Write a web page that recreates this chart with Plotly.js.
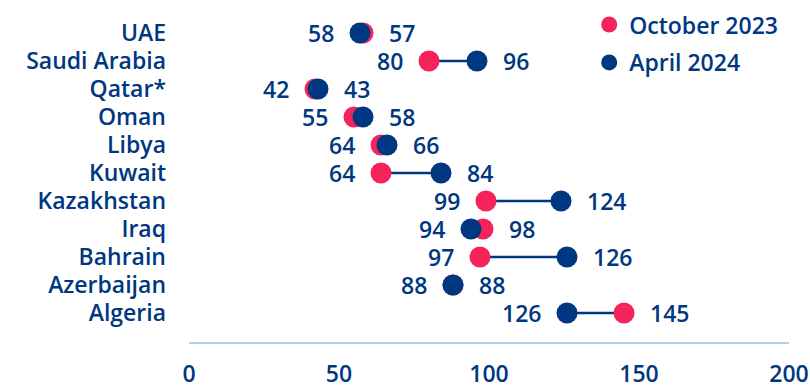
<!DOCTYPE html>
<html>
<head>
<meta charset="utf-8">
<script src="https://cdn.plot.ly/plotly-3.0.1.min.js"></script>
<style>
  html, body { margin: 0; padding: 0; background: #ffffff; }
  #chart { width: 810px; height: 388px; }
</style>
</head>
<body>
<div id="chart"></div>
<script>
// Countries, top to bottom
const countries = ['UAE', 'Saudi Arabia', 'Qatar*', 'Oman', 'Libya', 'Kuwait',
                   'Kazakhstan', 'Iraq', 'Bahrain', 'Azerbaijan', 'Algeria'];
// Values for each survey round
const oct2023 = [58, 80, 42, 55, 64, 64, 99, 98, 97, 88, 145];
const apr2024 = [57, 96, 43, 58, 66, 84, 124, 94, 126, 88, 126];
// Value labels written left and right of each pair
const leftLabels  = ['58', '80', '42', '55', '64', '64', '99', '94', '97', '88', '126'];
const rightLabels = ['57', '96', '43', '58', '66', '84', '124', '98', '126', '88', '145'];
const xTicks = [0, 50, 100, 150, 200];

const NAVY = '#003781';
const PINK = '#F4245A';
const FONT = '"Open Sans", "DejaVu Sans", sans-serif';

// Connector segments between the two rounds
const segX = [], segY = [];
countries.forEach((c, i) => {
  segX.push(oct2023[i], apr2024[i], null);
  segY.push(c, c, null);
});

const traces = [
  {
    x: segX, y: segY, mode: 'lines', type: 'scatter',
    line: { color: NAVY, width: 2.5 },
    hoverinfo: 'skip', showlegend: false
  },
  {
    x: oct2023, y: countries, mode: 'markers', type: 'scatter',
    name: 'October 2023', legendgroup: 'a',
    marker: { color: PINK, size: 21 }
  },
  {
    x: apr2024, y: countries, mode: 'markers', type: 'scatter',
    name: 'April 2024', legendgroup: 'b',
    marker: { color: NAVY, size: 21 }
  }
];

// Value labels: the left one sits before the smaller value, the right one after the larger
const annotations = [];
countries.forEach((c, i) => {
  const lo = Math.min(oct2023[i], apr2024[i]);
  const hi = Math.max(oct2023[i], apr2024[i]);
  annotations.push({
    x: lo, y: c, xref: 'x', yref: 'y', text: leftLabels[i],
    showarrow: false, xanchor: 'right', yanchor: 'middle', xshift: -24,
    font: { family: FONT, size: 23, color: NAVY, weight: 600 }
  });
  annotations.push({
    x: hi, y: c, xref: 'x', yref: 'y', text: rightLabels[i],
    showarrow: false, xanchor: 'left', yanchor: 'middle', xshift: 24,
    font: { family: FONT, size: 23, color: NAVY, weight: 600 }
  });
});

const layout = {
  width: 810, height: 388,
  margin: { l: 189, r: 21, t: 0, b: 46, pad: 0 },
  paper_bgcolor: '#ffffff', plot_bgcolor: '#ffffff',
  font: { family: FONT, size: 23, color: NAVY, weight: 600 },
  xaxis: {
    range: [0, 200], tickvals: xTicks, ticktext: xTicks.map(String),
    showgrid: false, zeroline: false, showline: true,
    linecolor: '#B3CFF5', linewidth: 2, ticks: '', ticklabelstandoff: 10,
    tickfont: { family: FONT, size: 23, color: NAVY, weight: 600 },
    fixedrange: true
  },
  yaxis: {
    type: 'category', categoryorder: 'array', categoryarray: countries,
    tickmode: 'array', tickvals: countries, ticktext: countries,
    range: [11.036, -1.179], autorange: false,
    showgrid: false, zeroline: false, showline: false, ticks: '',
    ticklabelstandoff: 22,
    tickfont: { family: FONT, size: 23, color: NAVY, weight: 600 },
    fixedrange: true
  },
  showlegend: true,
  legend: {
    x: 0.667, y: 0.991, xanchor: 'left', yanchor: 'top',
    traceorder: 'grouped', tracegroupgap: 5,
    font: { family: FONT, size: 23, color: NAVY, weight: 600 },
    bgcolor: 'rgba(0,0,0,0)', itemwidth: 30
  },
  annotations: annotations
};

Plotly.newPlot('chart', traces, layout, { displayModeBar: false, staticPlot: true });
</script>
</body>
</html>
